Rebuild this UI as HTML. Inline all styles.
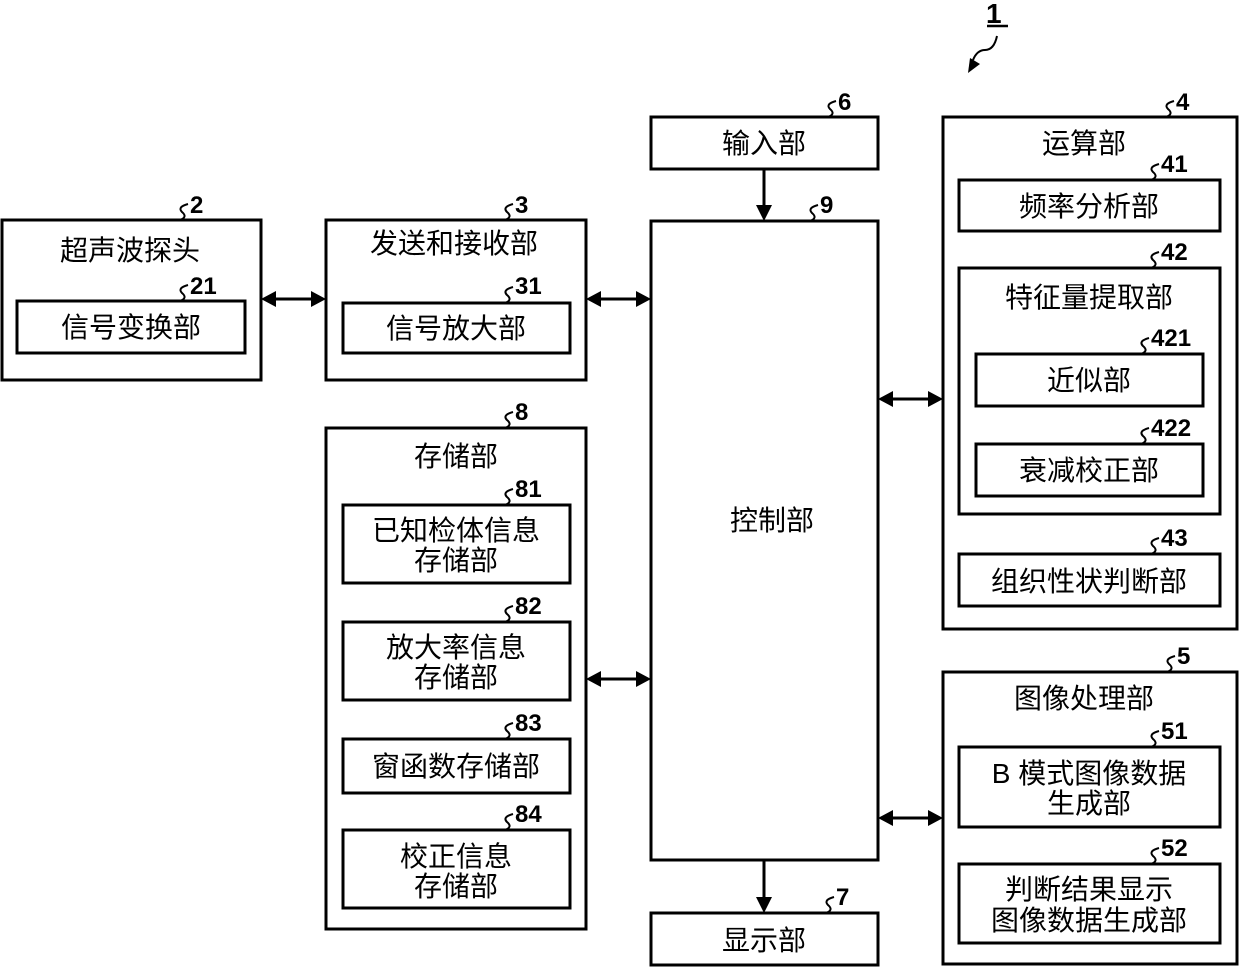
<!DOCTYPE html>
<html><head><meta charset="utf-8">
<style>
html,body{margin:0;padding:0;background:#fff;}
svg{display:block;}
.t{font-family:"Liberation Sans","Noto Sans CJK SC",sans-serif;font-size:28px;fill:#000;text-anchor:middle;}
.n{font-family:"Liberation Sans",sans-serif;font-size:24px;font-weight:bold;fill:#000;}
</style></head><body>
<svg width="1240" height="967" viewBox="0 0 1240 967" xmlns="http://www.w3.org/2000/svg">
<defs>
<marker id="a" viewBox="0 0 10 10" refX="10" refY="5" markerWidth="6" markerHeight="6" orient="auto-start-reverse" markerUnits="userSpaceOnUse">
</marker>
</defs>
<g fill="none" stroke="#000" stroke-width="3">
<rect x="2" y="220" width="259" height="160"/>
<rect x="17" y="301" width="228" height="52"/>
<rect x="326" y="220" width="260" height="160"/>
<rect x="343" y="303" width="227" height="50"/>
<rect x="651" y="117" width="227" height="52"/>
<rect x="651" y="221" width="227" height="639"/>
<rect x="651" y="913" width="227" height="52"/>
<rect x="943" y="117" width="294" height="512"/>
<rect x="959" y="180" width="261" height="51"/>
<rect x="959" y="268" width="261" height="246"/>
<rect x="976" y="354" width="227" height="52"/>
<rect x="976" y="444" width="227" height="52"/>
<rect x="959" y="554" width="261" height="52"/>
<rect x="943" y="672" width="294" height="292"/>
<rect x="959" y="747" width="261" height="80"/>
<rect x="959" y="864" width="261" height="79"/>
<rect x="326" y="428" width="260" height="501"/>
<rect x="343" y="505" width="227" height="78"/>
<rect x="343" y="622" width="227" height="78"/>
<rect x="343" y="739" width="227" height="54"/>
<rect x="343" y="830" width="227" height="78"/>
<!-- connector lines -->
<line x1="275" y1="299" x2="312" y2="299"/>
<line x1="600" y1="299" x2="637" y2="299"/>
<line x1="600" y1="679" x2="637" y2="679"/>
<line x1="892" y1="399" x2="929" y2="399"/>
<line x1="892" y1="818" x2="929" y2="818"/>
<line x1="764" y1="169" x2="764" y2="206"/>
<line x1="764" y1="860" x2="764" y2="898"/>
<!-- squiggles -->
<path d="M180,220 q8,-3 2,-8 q-5,-5 6,-8" stroke-width="2"/>
<path d="M180,301 q8,-3 2,-8 q-5,-5 6,-8" stroke-width="2"/>
<path d="M505,220 q8,-3 2,-8 q-5,-5 6,-8" stroke-width="2"/>
<path d="M505,303 q8,-3 2,-8 q-5,-5 6,-8" stroke-width="2"/>
<path d="M828,117 q8,-3 2,-8 q-5,-5 6,-8" stroke-width="2"/>
<path d="M810,221 q8,-3 2,-8 q-5,-5 6,-8" stroke-width="2"/>
<path d="M826,913 q8,-3 2,-8 q-5,-5 6,-8" stroke-width="2"/>
<path d="M1166,117 q8,-3 2,-8 q-5,-5 6,-8" stroke-width="2"/>
<path d="M1151,180 q8,-3 2,-8 q-5,-5 6,-8" stroke-width="2"/>
<path d="M1151,268 q8,-3 2,-8 q-5,-5 6,-8" stroke-width="2"/>
<path d="M1141,354 q8,-3 2,-8 q-5,-5 6,-8" stroke-width="2"/>
<path d="M1141,444 q8,-3 2,-8 q-5,-5 6,-8" stroke-width="2"/>
<path d="M1151,554 q8,-3 2,-8 q-5,-5 6,-8" stroke-width="2"/>
<path d="M1167,672 q8,-3 2,-8 q-5,-5 6,-8" stroke-width="2"/>
<path d="M1151,747 q8,-3 2,-8 q-5,-5 6,-8" stroke-width="2"/>
<path d="M1151,864 q8,-3 2,-8 q-5,-5 6,-8" stroke-width="2"/>
<path d="M505,428 q8,-3 2,-8 q-5,-5 6,-8" stroke-width="2"/>
<path d="M505,505 q8,-3 2,-8 q-5,-5 6,-8" stroke-width="2"/>
<path d="M505,622 q8,-3 2,-8 q-5,-5 6,-8" stroke-width="2"/>
<path d="M505,739 q8,-3 2,-8 q-5,-5 6,-8" stroke-width="2"/>
<path d="M505,830 q8,-3 2,-8 q-5,-5 6,-8" stroke-width="2"/>
<!-- label 1 -->
<line x1="987" y1="26" x2="1008" y2="26" stroke-width="2.5"/>
<path d="M997,36 q-3,14 -12,14 q-8,0 -12,10" stroke-width="2"/>
</g>
<g fill="#000">
<polygon points="261,299 276,291 276,307"/>
<polygon points="326,299 311,291 311,307"/>
<polygon points="586,299 601,291 601,307"/>
<polygon points="651,299 636,291 636,307"/>
<polygon points="586,679 601,671 601,687"/>
<polygon points="651,679 636,671 636,687"/>
<polygon points="878,399 893,391 893,407"/>
<polygon points="943,399 928,391 928,407"/>
<polygon points="878,818 893,810 893,826"/>
<polygon points="943,818 928,810 928,826"/>
<polygon points="764,221 756,205 772,205"/>
<polygon points="764,913 756,897 772,897"/>
<polygon points="968,73 970,58 980,64"/>
</g>
<g class="n">
<text x="986" y="23" font-size="28">1</text>
<text x="190" y="213">2</text>
<text x="190" y="294">21</text>
<text x="515" y="213">3</text>
<text x="515" y="294">31</text>
<text x="838" y="110">6</text>
<text x="820" y="213">9</text>
<text x="836" y="905">7</text>
<text x="1176" y="110">4</text>
<text x="1161" y="172">41</text>
<text x="1161" y="260">42</text>
<text x="1151" y="346">421</text>
<text x="1151" y="436">422</text>
<text x="1161" y="546">43</text>
<text x="1177" y="664">5</text>
<text x="1161" y="739">51</text>
<text x="1161" y="856">52</text>
<text x="515" y="420">8</text>
<text x="515" y="497">81</text>
<text x="515" y="614">82</text>
<text x="515" y="731">83</text>
<text x="515" y="822">84</text>
</g>
<g class="t">
<text x="130" y="260">超声波探头</text>
<text x="131" y="337">信号变换部</text>
<text x="454" y="253">发送和接收部</text>
<text x="456" y="338">信号放大部</text>
<text x="764" y="153">输入部</text>
<text x="772" y="530">控制部</text>
<text x="764" y="950">显示部</text>
<text x="1084" y="153">运算部</text>
<text x="1089" y="216">频率分析部</text>
<text x="1089" y="307">特征量提取部</text>
<text x="1089" y="390">近似部</text>
<text x="1089" y="480">衰减校正部</text>
<text x="1089" y="591">组织性状判断部</text>
<text x="1084" y="708">图像处理部</text>
<text x="1089" y="783">B 模式图像数据</text>
<text x="1089" y="813">生成部</text>
<text x="1089" y="899">判断结果显示</text>
<text x="1089" y="930">图像数据生成部</text>
<text x="456" y="466">存储部</text>
<text x="456" y="540">已知检体信息</text>
<text x="456" y="570">存储部</text>
<text x="456" y="657">放大率信息</text>
<text x="456" y="687">存储部</text>
<text x="456" y="776">窗函数存储部</text>
<text x="456" y="866">校正信息</text>
<text x="456" y="896">存储部</text>
</g>
</svg>
</body></html>
